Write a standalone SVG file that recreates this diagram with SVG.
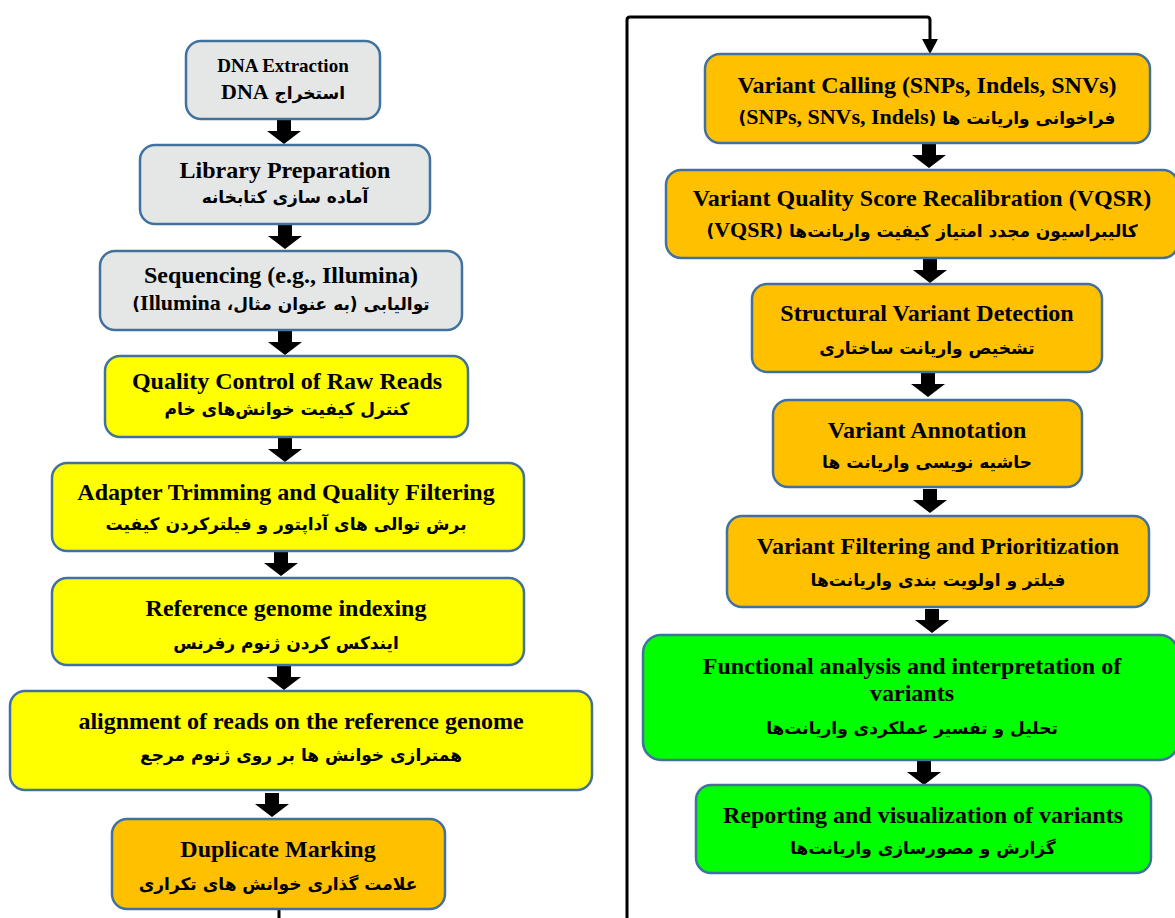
<svg xmlns="http://www.w3.org/2000/svg" xmlns:xlink="http://www.w3.org/1999/xlink" width="1175" height="918" viewBox="0 0 1175 918">
<style>
.box{stroke:#41719c;stroke-width:2.5}
.gray{fill:#e4e7e6}
.yel{fill:#ffff00}
.org{fill:#ffc000}
.grn{fill:#00ff00}
.en{font-family:"Liberation Serif","DejaVu Serif",serif;font-weight:bold;font-size:24px;fill:#000;text-anchor:middle}
.fa{font-family:"DejaVu Sans","Liberation Serif",sans-serif;font-weight:bold;font-size:17px;fill:#000;text-anchor:middle}
.lat{font-family:"Liberation Serif",serif;font-size:22px}
.sm{font-size:19px}
.line{fill:none;stroke:#000;stroke-width:3}
</style>
<defs>
<path id="blk" d="M-7,0 H7 V11 H17 L0,24 L-17,11 H-7 Z" fill="#000"/>
</defs>

<g id="connectors">
<use xlink:href="#blk" transform="translate(284,120)"/>
<use xlink:href="#blk" transform="translate(285,225)"/>
<use xlink:href="#blk" transform="translate(285,331)"/>
<use xlink:href="#blk" transform="translate(285,438)"/>
<use xlink:href="#blk" transform="translate(281,552)"/>
<use xlink:href="#blk" transform="translate(284,666)"/>
<use xlink:href="#blk" transform="translate(272,793)"/>
<use xlink:href="#blk" transform="translate(929,144)"/>
<use xlink:href="#blk" transform="translate(930,259)"/>
<use xlink:href="#blk" transform="translate(928,373)"/>
<use xlink:href="#blk" transform="translate(930,489)"/>
<use xlink:href="#blk" transform="translate(932,609)"/>
<use xlink:href="#blk" transform="translate(924,761)"/>
<path class="line" d="M279,909 V920"/>
<path class="line" d="M627,920 V20 Q627,17 630,17 H927 Q930,17 930,20 V40"/>
<path d="M922,39 H938 L930,54 Z" fill="#000"/>
</g>

<g id="n1"><rect class="box gray" x="186" y="41" width="194" height="78" rx="15"/>
<text class="en sm" x="283" y="72">DNA Extraction</text>
<text class="fa" x="283" y="99" direction="rtl">استخراج <tspan class="lat" font-size="19px">DNA</tspan></text></g>

<g id="n2"><rect class="box gray" x="140" y="145" width="290" height="79" rx="15"/>
<text class="en" x="285" y="178">Library Preparation</text>
<text class="fa" x="285" y="203" direction="rtl">آماده سازی کتابخانه</text></g>

<g id="n3"><rect class="box gray" x="100" y="251" width="362" height="79" rx="15"/>
<text class="en" x="281" y="283">Sequencing (e.g., Illumina)</text>
<text class="fa" x="281" y="310" direction="rtl">توالیابی (به عنوان مثال، <tspan class="lat">Illumina</tspan>)</text></g>

<g id="n4"><rect class="box yel" x="105" y="356" width="363" height="81" rx="15"/>
<text class="en" x="287" y="389">Quality Control of Raw Reads</text>
<text class="fa" x="287" y="415" direction="rtl">کنترل کیفیت خوانش‌های خام</text></g>

<g id="n5"><rect class="box yel" x="52" y="463" width="472" height="88" rx="15"/>
<text class="en" x="286" y="500">Adapter Trimming and Quality Filtering</text>
<text class="fa" x="286" y="530" direction="rtl">برش توالی های آداپتور و فیلترکردن کیفیت</text></g>

<g id="n6"><rect class="box yel" x="52" y="578" width="472" height="87" rx="15"/>
<text class="en" x="286" y="616">Reference genome indexing</text>
<text class="fa" x="286" y="649" direction="rtl">ایندکس کردن ژنوم رفرنس</text></g>

<g id="n7"><rect class="box yel" x="10" y="691" width="582" height="99" rx="15"/>
<text class="en" x="301" y="729">alignment of reads on the reference genome</text>
<text class="fa" x="301" y="761" direction="rtl">همترازی خوانش ها بر روی ژنوم مرجع</text></g>

<g id="n8"><rect class="box org" x="112" y="819" width="333" height="90" rx="15"/>
<text class="en" x="278" y="857">Duplicate Marking</text>
<text class="fa" x="278" y="890" direction="rtl">علامت گذاری خوانش های تکراری</text></g>

<g id="n9"><rect class="box org" x="705" y="54" width="445" height="89" rx="15"/>
<text class="en" x="927" y="93">Variant Calling (SNPs, Indels, SNVs)</text>
<text class="fa" x="927" y="124" direction="rtl">فراخوانی واریانت ها (<tspan class="lat">SNPs, SNVs, Indels</tspan>)</text></g>

<g id="n10"><rect class="box org" x="666" y="170" width="512" height="88" rx="15"/>
<text class="en" x="922" y="206">Variant Quality Score Recalibration (VQSR)</text>
<text class="fa" x="922" y="237" direction="rtl">کالیبراسیون مجدد امتیاز کیفیت واریانت‌ها (<tspan class="lat">VQSR</tspan>)</text></g>

<g id="n11"><rect class="box org" x="752" y="284" width="350" height="88" rx="15"/>
<text class="en" x="927" y="321">Structural Variant Detection</text>
<text class="fa" x="927" y="354" direction="rtl">تشخیص واریانت ساختاری</text></g>

<g id="n12"><rect class="box org" x="773" y="400" width="309" height="87" rx="15"/>
<text class="en" x="927" y="438">Variant Annotation</text>
<text class="fa" x="927" y="468" direction="rtl">حاشیه نویسی واریانت ها</text></g>

<g id="n13"><rect class="box org" x="727" y="516" width="422" height="91" rx="15"/>
<text class="en" x="938" y="554">Variant Filtering and Prioritization</text>
<text class="fa" x="938" y="586" direction="rtl">فیلتر و اولویت بندی واریانت‌ها</text></g>

<g id="n14"><rect class="box grn" x="643" y="635" width="535" height="125" rx="18"/>
<text class="en" x="912" y="674">Functional analysis and interpretation of</text>
<text class="en" x="912" y="701">variants</text>
<text class="fa" x="912" y="734" direction="rtl">تحلیل و تفسیر عملکردی واریانت‌ها</text></g>

<g id="n15"><rect class="box grn" x="696" y="785" width="455" height="88" rx="15"/>
<text class="en" x="923" y="823">Reporting and visualization of variants</text>
<text class="fa" x="923" y="854" direction="rtl">گزارش و مصورسازی واریانت‌ها</text></g>
</svg>
